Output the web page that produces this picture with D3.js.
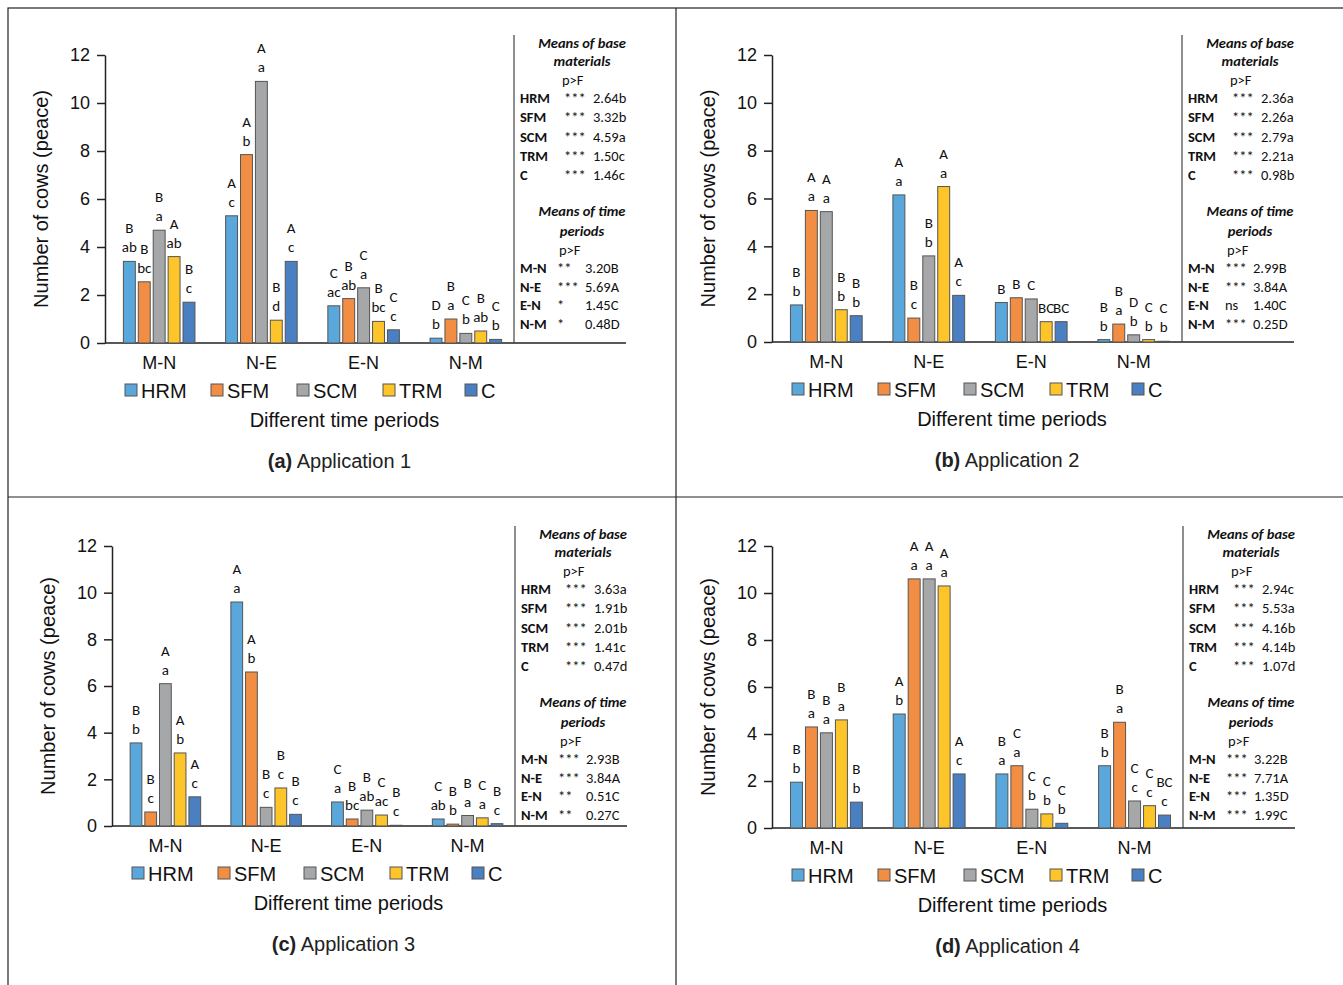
<!DOCTYPE html>
<html><head><meta charset="utf-8">
<script src="https://cdn.jsdelivr.net/npm/d3@7"></script>
<style>body{margin:0;background:#fff}svg{font-family:"Liberation Sans",Arial,sans-serif}.cal{font-family:Carlito,Calibri,Lato,"Open Sans",sans-serif}</style>
</head><body><svg id="c" width="1343" height="985"></svg>
<script>
const periods = ["M-N","N-E","E-N","N-M"];
const materials = ["HRM","SFM","SCM","TRM","C"];
const colors = ["#5aa7dc","#f28e43","#a5a7a9","#fdc52a","#4a7fc1"];
const yTicks = [0,2,4,6,8,10,12];
// values[period][material]
const valuesA = [[3.4,2.55,4.7,3.6,1.7],[5.3,7.85,10.9,0.95,3.4],[1.55,1.85,2.3,0.9,0.55],[0.2,1.0,0.4,0.5,0.15]];
const valuesB = [[1.55,5.5,5.45,1.35,1.1],[6.15,1.0,3.6,6.5,1.95],[1.65,1.85,1.8,0.85,0.85],[0.1,0.75,0.3,0.1,0.03]];
const valuesC = [[3.56,0.6,6.1,3.13,1.25],[9.6,6.6,0.8,1.63,0.5],[1.03,0.3,0.68,0.47,0.03],[0.3,0.08,0.45,0.35,0.1]];
const valuesD = [[1.95,4.3,4.05,4.6,1.1],[4.85,10.6,10.6,10.3,2.3],[2.3,2.65,0.8,0.6,0.2],[2.65,4.5,1.15,0.95,0.55]];
const lettersA = [[["B","ab"],["B","bc"],["B","a"],["A","ab"],["B","c"]],[["A","c"],["A","b"],["A","a"],["B","d"],["A","c"]],[["C","ac"],["B","ab"],["C","a"],["B","bc"],["C","c"]],[["D","b"],["B","a"],["C","b"],["B","ab"],["C","b"]]];
const lettersB = [[["B","b"],["A","a"],["A","a"],["B","b"],["B","b"]],[["A","a"],["B","c"],["B","b"],["A","a"],["A","c"]],[["B"],["B"],["C"],["BC"],["BC"]],[["B","b"],["B","a"],["D","b"],["C","b"],["C","b"]]];
const lettersC = [[["B","b"],["B","c"],["A","a"],["A","b"],["A","c"]],[["A","a"],["A","b"],["B","c"],["B","c"],["B","c"]],[["C","a"],["B","bc"],["B","ab"],["C","ac"],["B","c"]],[["C","ab"],["B","b"],["B","a"],["C","a"],["B","c"]]];
const lettersD = [[["B","b"],["B","a"],["B","a"],["B","a"],["B","b"]],[["A","b"],["A","a"],["A","a"],["A","a"],["A","c"]],[["B","a"],["C","a"],["C","b"],["C","b"],["C","b"]],[["B","b"],["B","a"],["C","c"],["C","c"],["BC","c"]]];
const baseStatsA = [["HRM","***","2.64b"],["SFM","***","3.32b"],["SCM","***","4.59a"],["TRM","***","1.50c"],["C","***","1.46c"]];
const timeStatsA = [["M-N","**","3.20B"],["N-E","***","5.69A"],["E-N","*","1.45C"],["N-M","*","0.48D"]];
const baseStatsB = [["HRM","***","2.36a"],["SFM","***","2.26a"],["SCM","***","2.79a"],["TRM","***","2.21a"],["C","***","0.98b"]];
const timeStatsB = [["M-N","***","2.99B"],["N-E","***","3.84A"],["E-N","ns","1.40C"],["N-M","***","0.25D"]];
const baseStatsC = [["HRM","***","3.63a"],["SFM","***","1.91b"],["SCM","***","2.01b"],["TRM","***","1.41c"],["C","***","0.47d"]];
const timeStatsC = [["M-N","***","2.93B"],["N-E","***","3.84A"],["E-N","**","0.51C"],["N-M","**","0.27C"]];
const baseStatsD = [["HRM","***","2.94c"],["SFM","***","5.53a"],["SCM","***","4.16b"],["TRM","***","4.14b"],["C","***","1.07d"]];
const timeStatsD = [["M-N","***","3.22B"],["N-E","***","7.71A"],["E-N","***","1.35D"],["N-M","***","1.99C"]];
const captions = ["(a)","(b)","(c)","(d)"];
const appNames = ["Application 1","Application 2","Application 3","Application 4"];

const svg = d3.select("#c");
svg.append("rect").attr("x",8).attr("y",8).attr("width",1340).attr("height",985).attr("fill","none").attr("stroke","#222").attr("stroke-width",1.2);
svg.append("line").attr("x1",676).attr("x2",676).attr("y1",8).attr("y2",985).attr("stroke","#222").attr("stroke-width",1.2);
svg.append("line").attr("x1",8).attr("x2",1343).attr("y1",497).attr("y2",497).attr("stroke","#222").attr("stroke-width",1.2);

const panels = [
 {vals:valuesA,let:lettersA,bs:baseStatsA,ts:timeStatsA,ax:105,y0:343,y12:55,sx:514,top:35},
 {vals:valuesB,let:lettersB,bs:baseStatsB,ts:timeStatsB,ax:772,y0:342,y12:55,sx:1182,top:35},
 {vals:valuesC,let:lettersC,bs:baseStatsC,ts:timeStatsC,ax:112,y0:826,y12:546,sx:515,top:526},
 {vals:valuesD,let:lettersD,bs:baseStatsD,ts:timeStatsD,ax:772,y0:828,y12:546,sx:1183,top:526}
];
panels.forEach((p,pi)=>{
  const g = svg.append("g");
  const y = d3.scaleLinear().domain([0,12]).range([p.y0,p.y12]);
  const x0 = d3.scaleBand().domain(periods).range([p.ax,p.sx+6]).paddingInner(0.3).paddingOuter(0.18);
  const x1 = d3.scaleBand().domain(materials).range([0,x0.bandwidth()]).paddingInner(0.2);
  const ya = g.append("g").attr("transform",`translate(${p.ax},0)`).call(d3.axisLeft(y).tickValues(yTicks).tickSize(8).tickSizeOuter(0));
  ya.select(".domain").attr("stroke","#222").attr("stroke-width",1.5);
  ya.selectAll(".tick line").attr("stroke","#222").attr("stroke-width",1.5);
  ya.selectAll("text").attr("font-size",18).attr("fill","#111").attr("font-family","Liberation Sans, Arial").attr("dx",-4);
  g.append("line").attr("x1",p.ax).attr("x2",p.sx+112).attr("y1",p.y0).attr("y2",p.y0).attr("stroke","#222").attr("stroke-width",1.5);
  g.append("line").attr("x1",p.sx).attr("x2",p.sx).attr("y1",p.top).attr("y2",p.y0).attr("stroke","#444").attr("stroke-width",1.2);
  periods.forEach((per,i)=>{
    g.append("text").attr("x",x0(per)+x0.bandwidth()/2).attr("y",p.y0+26).attr("text-anchor","middle").attr("font-size",18).attr("fill","#111").text(per);
    materials.forEach((m,j)=>{
      const v = p.vals[i][j], bx = x0(per)+x1(m);
      g.append("rect").attr("x",bx).attr("y",y(v)).attr("width",x1.bandwidth()).attr("height",p.y0-y(v)).attr("fill",colors[j]).attr("stroke","#555").attr("stroke-width",1);
      const L = p.let[i][j];
      L.forEach((t,k)=>{
        g.append("text").attr("class","cal").attr("x",bx+x1.bandwidth()/2).attr("y",y(v)-9-(L.length-1-k)*19).attr("text-anchor","middle").attr("font-size",15).attr("fill","#111").text(t);
      });
    });
  });
  const cx = p.sx+68;
  const st = g.append("g").attr("class","cal").attr("font-size",14.5).attr("fill","#111");
  st.append("text").attr("x",cx).attr("y",p.top+13).attr("text-anchor","middle").attr("font-weight","bold").attr("font-style","italic").text("Means of base");
  st.append("text").attr("x",cx).attr("y",p.top+31).attr("text-anchor","middle").attr("font-weight","bold").attr("font-style","italic").text("materials");
  st.append("text").attr("x",p.sx+48).attr("y",p.top+50).text("p>F");
  p.bs.forEach((r,k)=>{
    const yy = p.top+68+k*19.3;
    st.append("text").attr("x",p.sx+6).attr("y",yy).attr("font-weight","bold").text(r[0]);
    st.append("text").attr("x",p.sx+50).attr("y",yy).text(r[1]);
    st.append("text").attr("x",p.sx+79).attr("y",yy).text(r[2]);
  });
  st.append("text").attr("x",cx).attr("y",p.top+181).attr("text-anchor","middle").attr("font-weight","bold").attr("font-style","italic").text("Means of time");
  st.append("text").attr("x",cx).attr("y",p.top+201).attr("text-anchor","middle").attr("font-weight","bold").attr("font-style","italic").text("periods");
  st.append("text").attr("x",p.sx+45).attr("y",p.top+220).text("p>F");
  p.ts.forEach((r,k)=>{
    const yy = p.top+238+k*18.5;
    st.append("text").attr("x",p.sx+6).attr("y",yy).attr("font-weight","bold").text(r[0]);
    st.append("text").attr("x",p.sx+43).attr("y",yy).text(r[1]);
    st.append("text").attr("x",p.sx+71).attr("y",yy).text(r[2]);
  });
  const lx = p.ax+20, ly = p.y0+55;
  materials.forEach((m,j)=>{
    const xx = lx + j*86 - (j===4?4:0);
    g.append("rect").attr("x",xx).attr("y",ly-14).attr("width",12).attr("height",12).attr("fill",colors[j]).attr("stroke","#555");
    g.append("text").attr("x",xx+16).attr("y",ly).attr("font-size",20).attr("fill","#111").text(m);
  });
  g.append("text").attr("x",(p.ax+p.sx)/2+35).attr("y",p.y0+84).attr("text-anchor","middle").attr("font-size",20).attr("fill","#111").text("Different time periods");
  const cap = g.append("text").attr("x",(p.ax+p.sx)/2+30).attr("y",p.y0+125).attr("text-anchor","middle").attr("font-size",20).attr("fill","#222");
  cap.append("tspan").attr("font-weight","bold").text(captions[pi]);
  cap.append("tspan").text(" "+appNames[pi]);
  g.append("text").attr("transform",`translate(${p.ax-57},${(p.y0+p.y12)/2}) rotate(-90)`).attr("text-anchor","middle").attr("font-size",20).attr("fill","#111").text("Number of cows (peace)");
});
</script></body></html>
